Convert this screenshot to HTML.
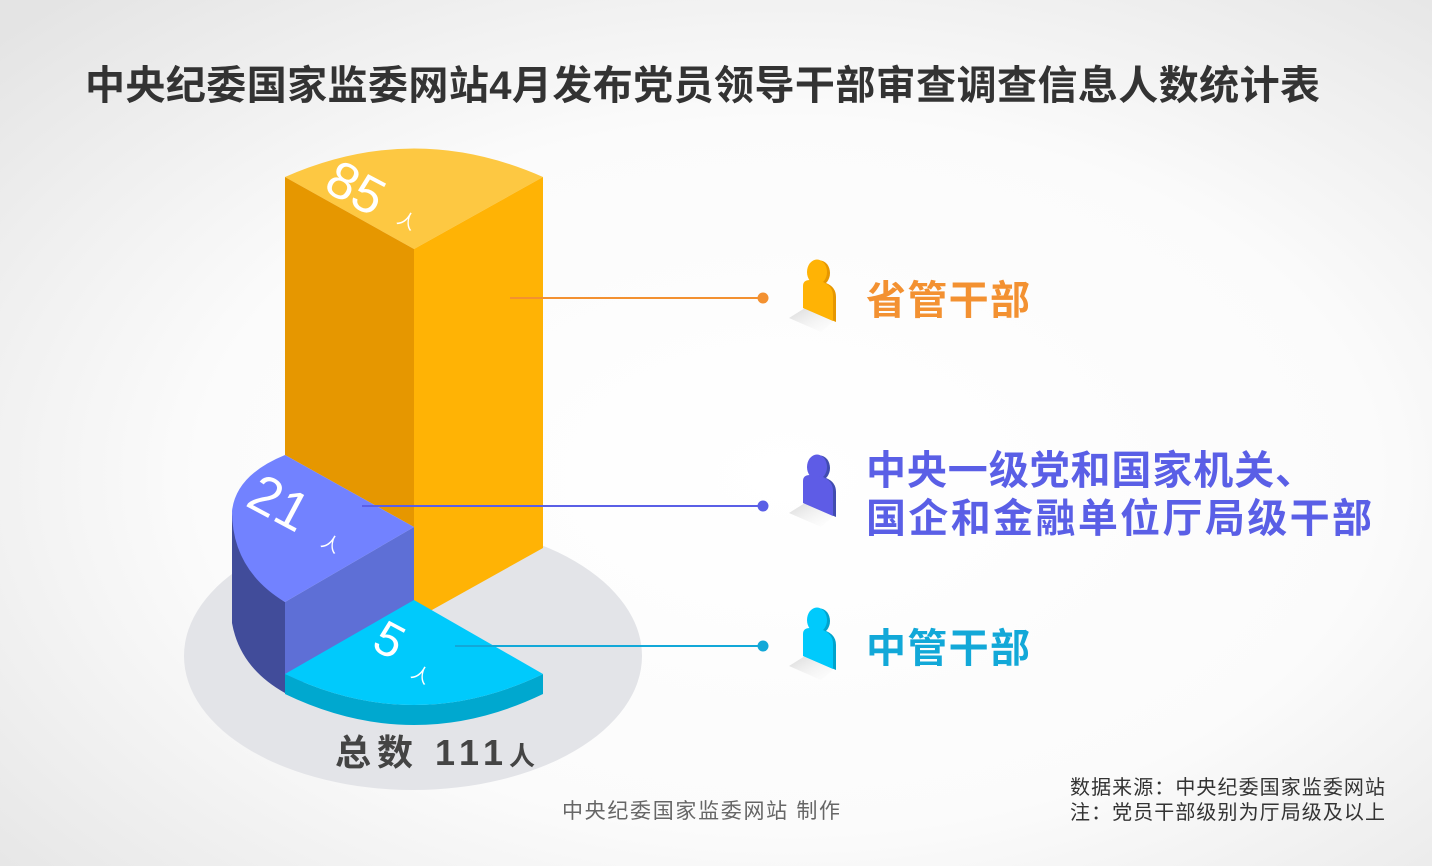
<!DOCTYPE html>
<html><head><meta charset="utf-8"><style>
html,body{margin:0;padding:0;width:1432px;height:866px;overflow:hidden}
body{font-family:"Liberation Sans","Noto Sans CJK SC",sans-serif}
</style></head><body>
<svg width="1432" height="866" viewBox="0 0 1432 866" xmlns="http://www.w3.org/2000/svg" font-family="Liberation Sans, Noto Sans CJK SC, sans-serif">
<defs>
<radialGradient id="bg" cx="0.55" cy="0.55" r="0.75">
<stop offset="0" stop-color="#ffffff"/><stop offset="0.55" stop-color="#fbfbfb"/><stop offset="1" stop-color="#e4e4e4"/>
</radialGradient>
<linearGradient id="sh" x1="0" y1="0" x2="1" y2="1"><stop offset="0" stop-color="#d8d8d8"/><stop offset="1" stop-color="#f6f6f6" stop-opacity="0"/></linearGradient>
<g id="p">
<path d="M-12,58 L4,48 L34,60 L20,72 Z" fill="url(#sh)"/>
<ellipse cx="19" cy="13" rx="10" ry="12.5" fill="var(--d)"/>
<path d="M5,27 Q5,21 12,21 L25,23 Q35,27 35,37 L35,62 L5,49 Z" fill="var(--d)"/>
<ellipse cx="16" cy="12" rx="10" ry="12.5" fill="var(--c)"/>
<path d="M2,26 Q2,20 9,20 L22,22 Q32,26 32,36 L32,61 L2,48 Z" fill="var(--c)"/>
</g>
</defs>
<rect width="1432" height="866" fill="url(#bg)"/>
<text x="85" y="99" font-size="40" font-weight="bold" fill="#333" textLength="1235" lengthAdjust="spacing">中央纪委国家监委网站4月发布党员领导干部审查调查信息人数统计表</text>

<ellipse cx="413" cy="656" rx="229" ry="134" fill="#e3e4e8"/>
<!-- orange -->
<path d="M285,177 Q414,120 543,177 L414,249 Z" fill="#fdc842"/>
<path d="M285,177 L414,249 L414,527 L285,455 Z" fill="#e69700"/>
<path d="M414,249 L543,177 L543,548 L414,620 Z" fill="#ffb305"/>
<!-- blue -->
<path d="M232,511 L232,623 Q240,668 285,693 L285,602 Q236,570 232,511 Z" fill="#414c9a"/>
<path d="M285,602 L414,527 L414,618 L285,693 Z" fill="#5e6fd6"/>
<path d="M285,455 L414,527 L285,602 Q232,570 232,511 Q236,475 285,455 Z" fill="#7282ff"/>
<!-- cyan -->
<path d="M285,674 Q414,736 543,674 L543,694 Q414,756 285,694 Z" fill="#00a8cf"/>
<path d="M414,600 L543,674 Q414,736 285,674 Z" fill="#00cafc"/>

<g fill="#fff" font-family="Liberation Sans, sans-serif">
<text transform="translate(322,190) rotate(28)" font-size="52">85</text>
<text transform="translate(396,222) rotate(28)" font-size="18" font-family="Noto Sans CJK SC, sans-serif">人</text>
<text transform="translate(244,505) rotate(28)" font-size="54">21</text>
<text transform="translate(320,545) rotate(28)" font-size="18" font-family="Noto Sans CJK SC, sans-serif">人</text>
<text transform="translate(370,648) rotate(28)" font-size="48">5</text>
<text transform="translate(410,676) rotate(28)" font-size="18" font-family="Noto Sans CJK SC, sans-serif">人</text>
</g>

<text x="335" y="765" font-size="36" font-weight="bold" fill="#444" textLength="200" lengthAdjust="spacing">总数 111<tspan font-size="26">人</tspan></text>

<line x1="510" y1="298" x2="763" y2="298" stroke="#f39131" stroke-width="2"/><circle cx="763" cy="298" r="5.5" fill="#f39131"/>
<line x1="362" y1="506" x2="763" y2="506" stroke="#5a5fe6" stroke-width="2"/><circle cx="763" cy="506" r="5.5" fill="#5a5fe6"/>
<line x1="455" y1="646" x2="763" y2="646" stroke="#12a8d8" stroke-width="2"/><circle cx="763" cy="646" r="5.5" fill="#12a8d8"/>

<use href="#p" x="801" y="260" style="--c:#ffb305;--d:#e69700"/>
<use href="#p" x="801" y="455" style="--c:#5e5ce6;--d:#414cb0"/>
<use href="#p" x="801" y="608" style="--c:#00cafc;--d:#00a3cc"/>

<g font-size="40" font-weight="bold">
<text x="866" y="314" fill="#f39131" textLength="164">省管干部</text>
<text x="866" y="484" fill="#5a5fe6" textLength="449">中央一级党和国家机关、</text>
<text x="866" y="532" fill="#5a5fe6" textLength="506">国企和金融单位厅局级干部</text>
<text x="866" y="662" fill="#12a8d8" textLength="164">中管干部</text>
</g>

<text x="562" y="818" font-size="21" fill="#666" textLength="278">中央纪委国家监委网站 制作</text>
<text x="1070" y="794" font-size="20" fill="#333" textLength="315">数据来源：中央纪委国家监委网站</text>
<text x="1070" y="819" font-size="20" fill="#333" textLength="315">注：党员干部级别为厅局级及以上</text>
</svg>
</body></html>
